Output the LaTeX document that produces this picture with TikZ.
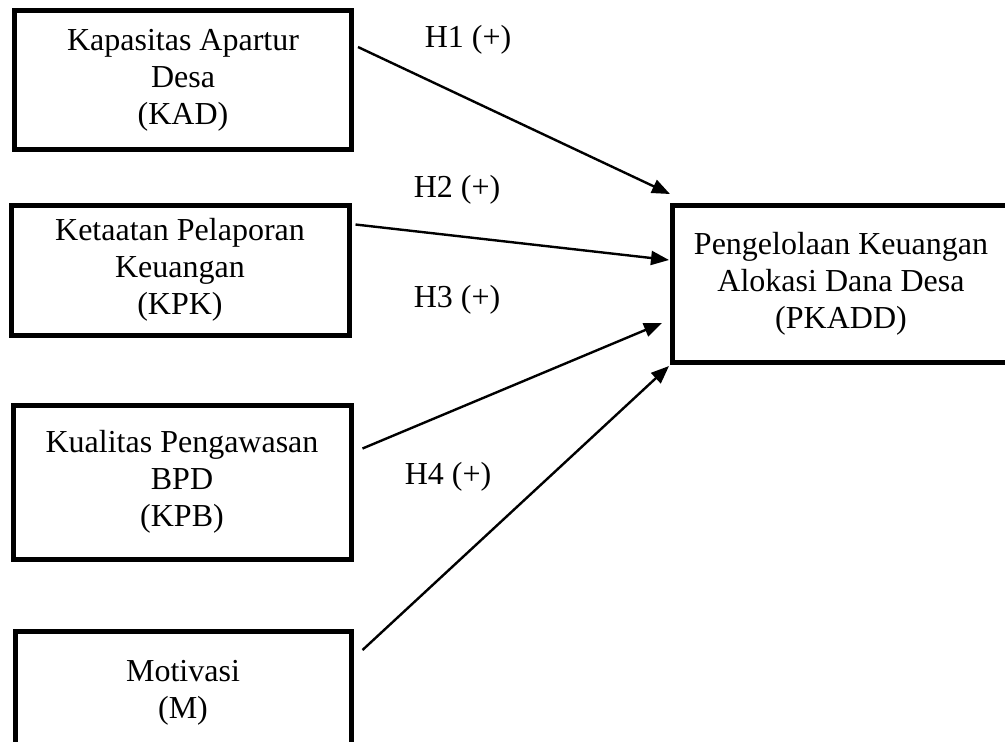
\documentclass[tikz,border=0pt]{standalone}
\usepackage{fontspec}
\setmainfont{Liberation Serif}
\usetikzlibrary{arrows.meta}

\begin{document}
\begin{tikzpicture}[x=0.5pt, y=-0.5pt,
    font=\fontsize{16}{18.5}\selectfont,
    varbox/.style={draw, line width=2.5pt, align=center, inner sep=0pt},
    effect/.style={-{Triangle[length=9pt, width=7pt]}, line width=1.2pt},
    hyp/.style={inner sep=0pt}]
  \useasboundingbox (0,0) rectangle (1005,741);
  \clip (0,0) rectangle (1005,741);
  \node[varbox, minimum width=168.5pt, minimum height=69.5pt] (KAD) at (183,80)
    {Kapasitas Apartur\\Desa\\(KAD)};
  \node[varbox, minimum width=169pt, minimum height=65pt] (KPK) at (180,270)
    {Ketaatan Pelaporan\\Keuangan\\(KPK)};
  \node[varbox, minimum width=169pt, minimum height=77pt] (KPB) at (182,482)
    {Kualitas Pengawasan\\BPD\\(KPB)};
  \node[varbox, minimum width=168pt, minimum height=61.5pt] (M) at (183,693)
    {Motivasi\\(M)};
  \node[varbox, minimum width=168.5pt, minimum height=78.5pt] (PKADD) at (841,284)
    {Pengelolaan Keuangan\\Alokasi Dana Desa\\(PKADD)};

  \draw[effect] ([shift={(4,39)}]KAD.north east) -- ([shift={(0,-9)}]PKADD.north west);
  \draw[effect] ([shift={(4,22)}]KPK.north east) -- ([shift={(-1,57)}]PKADD.north west);
  \draw[effect] ([shift={(9,46)}]KPB.north east) -- ([shift={(-8,120)}]PKADD.north west);
  \draw[effect] ([shift={(9,21)}]M.north east) -- ([shift={(-1,1)}]PKADD.south west);

  \node[hyp] (H1) at (468,40) {H1 (+)};
  \node[hyp] (H2) at (457,190) {H2 (+)};
  \node[hyp] (H3) at (457,300) {H3 (+)};
  \node[hyp] (H4) at (448,477) {H4 (+)};
\end{tikzpicture}
\end{document}
